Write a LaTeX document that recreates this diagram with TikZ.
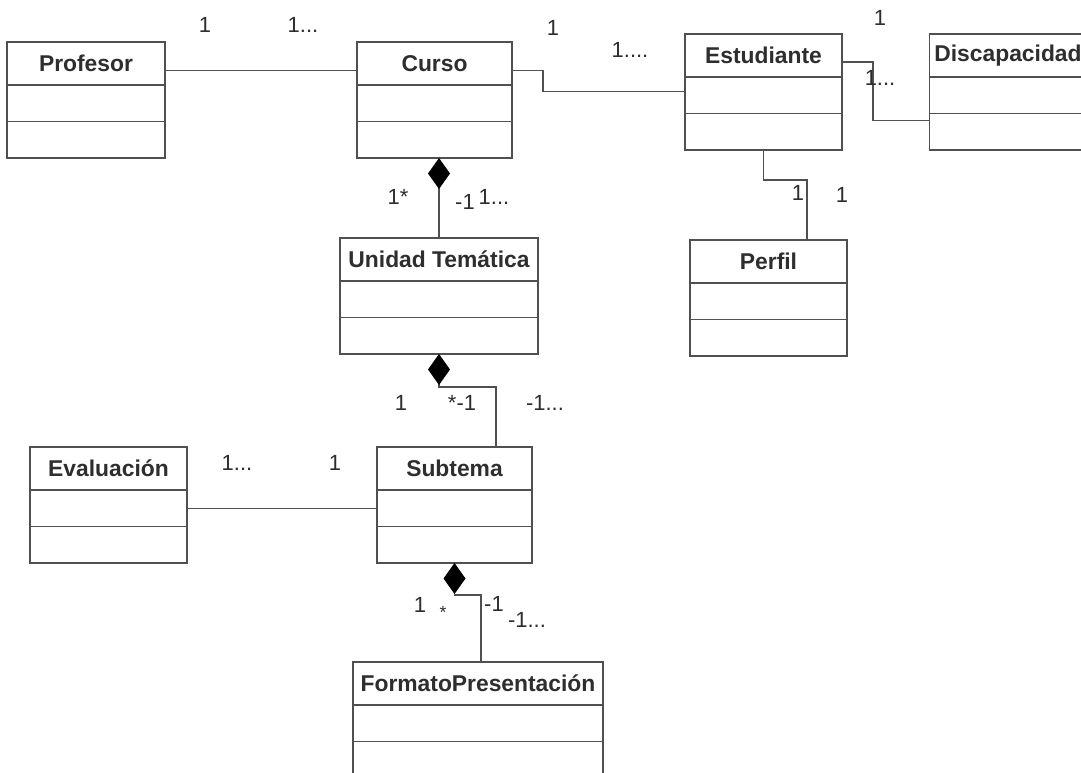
\documentclass[tikz,border=0pt]{standalone}
\usepackage{fontspec}
\setmainfont{Liberation Sans}
\usetikzlibrary{arrows.meta,positioning}
\definecolor{LineGray}{HTML}{505050}
\definecolor{InkGray}{HTML}{2E2E2E}

\begin{document}
\begin{tikzpicture}[
    x=0.02cm, y=-0.02cm,
    every node/.style={text=InkGray},
    head/.style={draw=LineGray,line width=0.8pt,fill=white,minimum height=0.86cm,inner sep=0pt,outer sep=0pt,font=\fontsize{13}{15}\selectfont\bfseries},
    part/.style={draw=LineGray,line width=0.8pt,fill=white,minimum height=0.73cm,inner sep=0pt,outer sep=0pt},
    mult/.style={font=\fontsize{12.5}{14}\selectfont,inner sep=0pt},
    link/.style={LineGray,line width=0.8pt},
    comp/.style={link,{Diamond[length=0.62cm,width=0.44cm,color=black]}-}
  ]
    \useasboundingbox (0,0) rectangle (1081,772);
    \fill[white] (0,0) rectangle (1081,772);

    % classes
    \node[head,minimum width=3.16cm] (prof) at (86,63.5) {Profesor};
    \node[part,minimum width=3.16cm,below=0pt of prof] (profA) {};
    \node[part,minimum width=3.16cm,below=0pt of profA] (profB) {};

    \node[head,minimum width=3.10cm] (curso) at (434.5,63.5) {Curso};
    \node[part,minimum width=3.10cm,below=0pt of curso] (cursoA) {};
    \node[part,minimum width=3.10cm,below=0pt of cursoA] (cursoB) {};

    \node[head,minimum width=3.14cm] (est) at (763.5,55.5) {Estudiante};
    \node[part,minimum width=3.14cm,below=0pt of est] (estA) {};
    \node[part,minimum width=3.14cm,below=0pt of estA] (estB) {};

    \node[head,minimum width=3.14cm] (disc) at (1008,55.5) {Discapacidad};
    \node[part,minimum width=3.14cm,below=0pt of disc] (discA) {};
    \node[part,minimum width=3.14cm,below=0pt of discA] (discB) {};

    \node[head,minimum width=3.96cm] (ut) at (439,259.5) {Unidad Temática};
    \node[part,minimum width=3.96cm,below=0pt of ut] (utA) {};
    \node[part,minimum width=3.96cm,below=0pt of utA] (utB) {};

    \node[head,minimum width=3.14cm] (perfil) at (768.5,261.5) {Perfil};
    \node[part,minimum width=3.14cm,below=0pt of perfil] (perfilA) {};
    \node[part,minimum width=3.14cm,below=0pt of perfilA] (perfilB) {};

    \node[head,minimum width=3.14cm] (eval) at (108.5,468.5) {Evaluación};
    \node[part,minimum width=3.14cm,below=0pt of eval] (evalA) {};
    \node[part,minimum width=3.14cm,below=0pt of evalA] (evalB) {};

    \node[head,minimum width=3.10cm] (sub) at (454.5,468.5) {Subtema};
    \node[part,minimum width=3.10cm,below=0pt of sub] (subA) {};
    \node[part,minimum width=3.10cm,below=0pt of subA] (subB) {};

    \node[head,minimum width=5.0cm] (fp) at (478,683.5) {FormatoPresentación};
    \node[part,minimum width=5.0cm,below=0pt of fp] (fpA) {};
    \node[part,minimum width=5.0cm,below=0pt of fpA] (fpB) {};

    % associations
    \draw[link] ([yshift=-0.14cm]prof.east) -- ([yshift=-0.14cm]curso.west);
    \draw[link] ([yshift=-0.14cm]curso.east) -- ++(31,0) |- ([yshift=0.08cm]estA.west);
    \draw[link] ([yshift=-0.13cm]est.east) -- ++(31,0) |- ([yshift=0.23cm]discB.west);
    \draw[link] (estB.south) -- ++(0,30) -| ([xshift=0.77cm]perfil.north);
    \draw[link] (evalA.east) -- (subA.west);

    % compositions
    \draw[comp] (cursoB.south -| ut.north) -- (ut.north);
    \draw[comp] (utB.south) -- ++(0,33) -| ([xshift=0.83cm]sub.north);
    \draw[comp] (subB.south) -- ++(0,32) -| ([xshift=0.06cm]fp.north);

    % multiplicities
    \node[mult] (mProf) at (205,25) {1};
    \node[mult] (mCursoP) at (303,25) {1...};
    \node[mult] (mCursoE) at (553,28) {1};
    \node[mult] (mEstC) at (630,50) {1....};
    \node[mult] (mEstD) at (880,18) {1};
    \node[mult] (mDisc) at (880,78) {1...};
    \node[mult] (mCursoU) at (398,197) {1*};
    \node[mult] (mUtA) at (465,202) {-1};
    \node[mult] (mUtB) at (494,197) {1...};
    \node[mult] (mEstP) at (798,193) {1};
    \node[mult] (mPerfil) at (842,195) {1};
    \node[mult] (mUtS) at (401,403) {1};
    \node[mult] (mSubA) at (462,403) {*-1};
    \node[mult] (mSubB) at (545,403) {-1...};
    \node[mult] (mEval) at (237,463) {1...};
    \node[mult] (mSubE) at (335,463) {1};
    \node[mult] (mSubF) at (420,605) {1};
    \node[mult,font=\fontsize{10}{12}\selectfont] (mFpA) at (443,612) {*};
    \node[mult] (mFpB) at (494,604) {-1};
    \node[mult] (mFpC) at (527,620) {-1...};
  \end{tikzpicture}
\end{document}
